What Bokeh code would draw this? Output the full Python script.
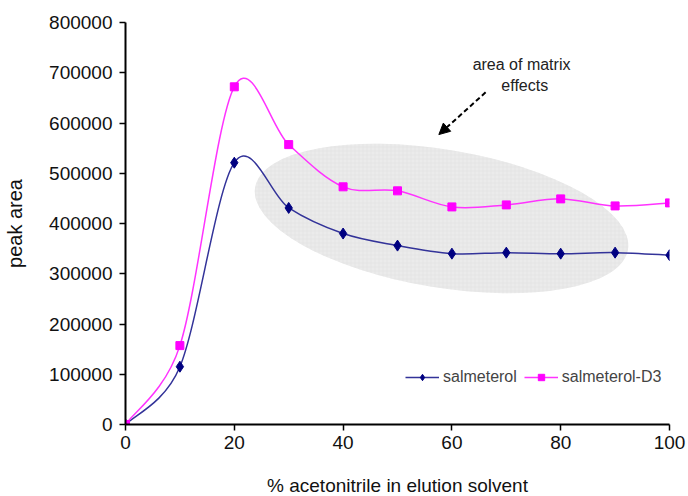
import numpy as np
from bokeh.plotting import figure
from bokeh.models import (Range1d, FixedTicker, BasicTickFormatter, Legend, LegendItem,
                          Arrow, NormalHead, Label, ColumnDataSource)
from bokeh.embed import file_html
from bokeh.resources import INLINE

# ---- data ----
acetonitrile = [0, 10, 20, 30, 40, 50, 60, 70, 80, 90, 100]
salmeterol = [0, 115000, 521000, 431000, 380000, 356000, 340000, 342000, 340000, 342000, 337000]
salmeterol_d3 = [0, 157000, 672000, 557000, 473000, 465000, 433000, 437000, 449000, 435000, 441000]
x_ticks = [0, 20, 40, 60, 80, 100]
y_ticks = [0, 100000, 200000, 300000, 400000, 500000, 600000, 700000, 800000]

FONT = "Liberation Sans"
X_MAX, Y_MAX = 100, 800000
FRAME_W, FRAME_H = 544, 402
SX, SY = FRAME_W / X_MAX, FRAME_H / Y_MAX   # pixels per data unit (for smoothing)


def smooth_segments(xs, ys):
    """Bezier segments like a spreadsheet 'smoothed line' (Catmull-Rom, limited)."""
    x = np.asarray(xs, float)
    y = np.asarray(ys, float)
    n = len(x)
    px = np.concatenate([[x[0]], x, [x[-1]]])
    py = np.concatenate([[y[0]], y, [y[-1]]])

    def dist(i, j):
        return np.hypot((px[j] - px[i]) * SX, (py[j] - py[i]) * SY)

    d = dict(x0=[], y0=[], x1=[], y1=[], cx0=[], cy0=[], cx1=[], cy1=[])
    for i in range(n - 1):
        a, b, c, e = i, i + 1, i + 2, i + 3
        d12 = dist(b, c)
        d02 = dist(a, c)
        d13 = dist(b, e)
        f1 = 1 / 6.0
        if d02 > 0 and d02 / 6.0 > d12 / 2.0:
            f1 = (d12 / 2.0) / d02
        f2 = 1 / 6.0
        if d13 > 0 and d13 / 6.0 > d12 / 2.0:
            f2 = (d12 / 2.0) / d13
        d["x0"].append(px[b]); d["y0"].append(py[b])
        d["x1"].append(px[c]); d["y1"].append(py[c])
        d["cx0"].append(px[b] + (px[c] - px[a]) * f1); d["cy0"].append(py[b] + (py[c] - py[a]) * f1)
        d["cx1"].append(px[c] - (px[e] - px[b]) * f2); d["cy1"].append(py[c] - (py[e] - py[b]) * f2)
    return ColumnDataSource(d)


p = figure(width=688, height=496, frame_width=FRAME_W, frame_height=FRAME_H,
           min_border_left=125, min_border_right=19, min_border_top=22, min_border_bottom=72,
           x_range=Range1d(0, X_MAX), y_range=Range1d(0, Y_MAX),
           output_backend="svg", toolbar_location=None)
p.outline_line_color = None
p.xgrid.visible = False
p.ygrid.visible = False

# matrix-effect area (grey ellipse)
p.ellipse(x=[58.1], y=[410000], width=[378], height=[138], angle=[-0.165],
          width_units="screen", height_units="screen",
          fill_color="#ebebeb", line_color=None,
          hatch_pattern="+", hatch_color="#dedede", hatch_scale=4, hatch_weight=0.5)

navy_line = "#333399"
navy_mark = "#000080"
mag_line = "#ff33ff"
mag_mark = "#ff00ff"

p.bezier(x0="x0", y0="y0", x1="x1", y1="y1", cx0="cx0", cy0="cy0", cx1="cx1", cy1="cy1",
         source=smooth_segments(acetonitrile, salmeterol), line_color=navy_line, line_width=1.5)
p.bezier(x0="x0", y0="y0", x1="x1", y1="y1", cx0="cx0", cy0="cy0", cx1="cx1", cy1="cy1",
         source=smooth_segments(acetonitrile, salmeterol_d3), line_color=mag_line, line_width=1.5)

s1 = p.scatter(acetonitrile, salmeterol, marker="diamond", size=11,
               fill_color=navy_mark, line_color=navy_mark)
s2 = p.scatter(acetonitrile, salmeterol_d3, marker="square", size=8,
               fill_color=mag_mark, line_color=mag_mark)

# legend proxies (lines with same style, nothing drawn on the plot)
l1 = p.line(x=[np.nan], y=[np.nan], line_color=navy_line, line_width=1.5)
l2 = p.line(x=[np.nan], y=[np.nan], line_color=mag_line, line_width=1.5)

legend = Legend(items=[LegendItem(label="salmeterol", renderers=[l1, s1]),
                       LegendItem(label="salmeterol-D3", renderers=[l2, s2])],
                orientation="horizontal", location=(280, 38),
                label_text_font=FONT, label_text_font_size="16px",
                label_standoff=4, glyph_width=34, glyph_height=16, spacing=7,
                padding=0, margin=0, border_line_color=None, background_fill_alpha=0)
p.add_layout(legend)

# annotation
p.add_layout(Arrow(end=NormalHead(size=11, fill_color="black", line_color="black"),
                   x_start=66.2, y_start=661000, x_end=57.6, y_end=577000,
                   line_color="black", line_width=2, line_dash="5 3"))
p.add_layout(Label(x=72.8, y=716000, text="area of matrix", text_align="center",
                   text_baseline="middle", text_font=FONT, text_font_size="16px",
                   text_color="#222222"))
p.add_layout(Label(x=73.4, y=675000, text="effects", text_align="center",
                   text_baseline="middle", text_font=FONT, text_font_size="16px",
                   text_color="#222222"))

# axes
for ax in (p.xaxis[0], p.yaxis[0]):
    ax.axis_line_width = 2
    ax.axis_line_color = "black"
    ax.major_tick_line_width = 1.5
    ax.major_tick_line_color = "black"
    ax.major_tick_in = 0
    ax.major_tick_out = 6
    ax.minor_tick_line_color = None
    ax.major_label_text_font = FONT
    ax.major_label_text_font_size = "19px"
    ax.major_label_text_color = "#111111"
    ax.axis_label_text_font = FONT
    ax.axis_label_text_font_style = "normal"
    ax.axis_label_text_color = "#111111"

p.xaxis.axis_label_text_font_size = "19px"
p.yaxis.axis_label_text_font_size = "20px"
p.xaxis.ticker = FixedTicker(ticks=x_ticks)
p.yaxis.ticker = FixedTicker(ticks=y_ticks)
p.yaxis.formatter = BasicTickFormatter(use_scientific=False)
p.xaxis.axis_label = "% acetonitrile in elution solvent"
p.yaxis.axis_label = "peak area"
p.xaxis.major_label_standoff = 5
p.yaxis.major_label_standoff = 7
p.xaxis.axis_label_standoff = 23
p.yaxis.axis_label_standoff = 20

open("out.html", "w").write(file_html(p, INLINE))
